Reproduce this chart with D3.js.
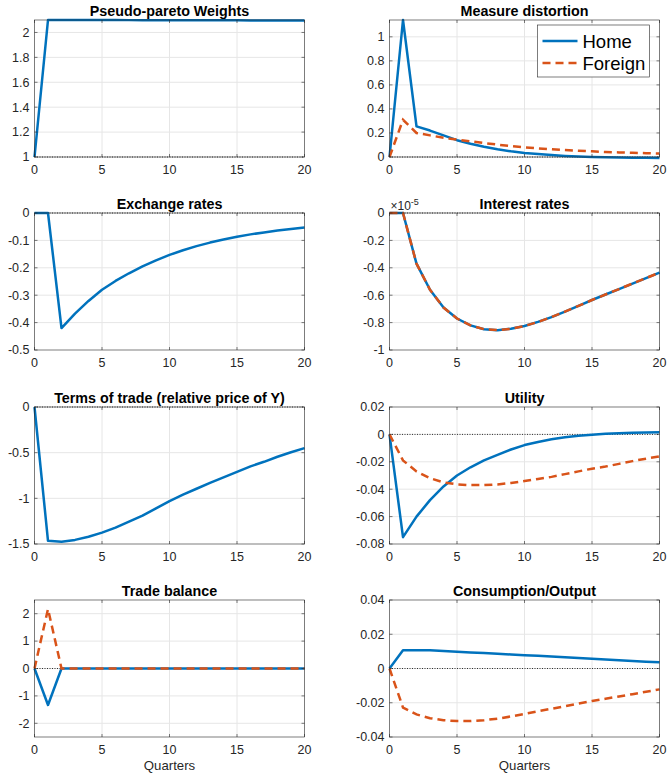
<!DOCTYPE html>
<html>
<head>
<meta charset="utf-8">
<script src="https://cdn.jsdelivr.net/npm/d3@7"></script>
<style>
  body { margin: 0; background: #fff; }
  svg { font-family: "Liberation Sans", Arial, Helvetica, sans-serif; }
</style>
</head>
<body>
<svg id="chart" width="669" height="779"></svg>
<script>
// quarters 0..20
const quarters = d3.range(0, 21);

// Pseudo-pareto weights (home only)
const paretoHome = [1, 2.1, 2.1, 2.1, 2.1, 2.1, 2.1, 2.099, 2.099, 2.099, 2.098,
  2.098, 2.098, 2.097, 2.097, 2.097, 2.096, 2.096, 2.096, 2.095, 2.095];

// Measure distortion
const distHome = [0, 1.14, 0.255, 0.22, 0.18, 0.14, 0.11, 0.085, 0.064, 0.047, 0.034,
  0.024, 0.016, 0.009, 0.004, 0.0, -0.003, -0.005, -0.006, -0.007, -0.008];
const distForeign = [0, 0.31, 0.2, 0.18, 0.16, 0.145, 0.13, 0.116, 0.103, 0.091, 0.08,
  0.072, 0.065, 0.058, 0.052, 0.047, 0.042, 0.038, 0.035, 0.032, 0.029];

// Exchange rates
const fxHome = [0, 0, -0.42, -0.367, -0.321, -0.28, -0.248, -0.22, -0.195, -0.173, -0.153,
  -0.136, -0.121, -0.108, -0.097, -0.087, -0.078, -0.071, -0.064, -0.058, -0.053];

// Interest rates (x 1e-5), home and foreign coincide
const rateHome = [0, 0, -0.37, -0.56, -0.69, -0.77, -0.82, -0.848, -0.855, -0.845, -0.825,
  -0.795, -0.76, -0.72, -0.678, -0.635, -0.595, -0.555, -0.515, -0.475, -0.435];
const rateForeign = rateHome.slice();

// Terms of trade
const totHome = [0, -1.465, -1.475, -1.455, -1.42, -1.375, -1.32, -1.255, -1.19, -1.11, -1.03,
  -0.96, -0.895, -0.83, -0.77, -0.71, -0.65, -0.6, -0.545, -0.495, -0.45];

// Utility
const utilHome = [0, -0.075, -0.06, -0.048, -0.038, -0.03, -0.024, -0.019, -0.015, -0.011, -0.0078,
  -0.0055, -0.0036, -0.0021, -0.001, -0.0002, 0.0004, 0.0009, 0.0012, 0.0014, 0.0015];
const utilForeign = [0, -0.019, -0.027, -0.032, -0.035, -0.0365, -0.037, -0.037, -0.0365, -0.0355, -0.034,
  -0.0325, -0.031, -0.029, -0.027, -0.025, -0.0235, -0.0215, -0.0195, -0.0177, -0.016];

// Trade balance
const tbHome = [0, -1.33, 0, 0, 0, 0, 0, 0, 0, 0, 0, 0, 0, 0, 0, 0, 0, 0, 0, 0, 0];
const tbForeign = [0, 2.17, 0, 0, 0, 0, 0, 0, 0, 0, 0, 0, 0, 0, 0, 0, 0, 0, 0, 0, 0];

// Consumption/Output
const consHome = [0, 0.0106, 0.0107, 0.0106, 0.0102, 0.0098, 0.0094, 0.009, 0.0086, 0.0082, 0.0078,
  0.0074, 0.007, 0.0065, 0.0061, 0.0057, 0.0052, 0.0048, 0.0044, 0.004, 0.0036];
const consForeign = [0, -0.0228, -0.0268, -0.029, -0.0302, -0.0307, -0.0307, -0.0302, -0.0293, -0.028, -0.0265,
  -0.025, -0.0235, -0.022, -0.0205, -0.019, -0.0177, -0.0163, -0.015, -0.0136, -0.0122];

const xTicks = [0, 5, 10, 15, 20];

const panels = [
  { title: 'Pseudo-pareto Weights', home: paretoHome, foreign: null, domain: [1, 2.1],
    ticks: [1, 1.2, 1.4, 1.6, 1.8, 2], ref: 1 },
  { title: 'Measure distortion', home: distHome, foreign: distForeign, domain: [0, 1.14],
    ticks: [0, 0.2, 0.4, 0.6, 0.8, 1], ref: 0, legend: true },
  { title: 'Exchange rates', home: fxHome, foreign: null, domain: [-0.5, 0],
    ticks: [-0.5, -0.4, -0.3, -0.2, -0.1, 0], ref: 0 },
  { title: 'Interest rates', home: rateHome, foreign: rateForeign, domain: [-1, 0],
    ticks: [-1, -0.8, -0.6, -0.4, -0.2, 0], ref: 0, exponent: '-5' },
  { title: 'Terms of trade (relative price of Y)', home: totHome, foreign: null, domain: [-1.5, 0],
    ticks: [-1.5, -1, -0.5, 0], ref: 0 },
  { title: 'Utility', home: utilHome, foreign: utilForeign, domain: [-0.08, 0.02],
    ticks: [-0.08, -0.06, -0.04, -0.02, 0, 0.02], ref: 0 },
  { title: 'Trade balance', home: tbHome, foreign: tbForeign, domain: [-2.5, 2.5],
    ticks: [-2, -1, 0, 1, 2], ref: 0, xlabel: true },
  { title: 'Consumption/Output', home: consHome, foreign: consForeign, domain: [-0.04, 0.04],
    ticks: [-0.04, -0.02, 0, 0.02, 0.04], ref: 0, xlabel: true }
];

const blue = '#0072BD';
const orange = '#D95319';
const axisColor = '#262626';

const colLeft = [34.5, 389.5];
const rowTop = [20, 213, 407, 600];
const plotW = 270;
const plotH = 137;

const svg = d3.select('#chart');

panels.forEach((p, i) => {
  const col = i % 2;
  const row = Math.floor(i / 2);
  const g = svg.append('g')
    .attr('transform', 'translate(' + colLeft[col] + ',' + rowTop[row] + ')');

  const x = d3.scaleLinear().domain([0, 20]).range([0, plotW]);
  const y = d3.scaleLinear().domain(p.domain).range([plotH, 0]);

  // grid
  g.append('g').selectAll('line.gx')
    .data(xTicks.slice(1, -1))
    .enter().append('line')
    .attr('x1', d => x(d)).attr('x2', d => x(d))
    .attr('y1', 0).attr('y2', plotH)
    .attr('stroke', '#e6e6e6').attr('stroke-width', 1);
  g.append('g').selectAll('line.gy')
    .data(p.ticks.filter(t => y(t) > 0.5 && y(t) < plotH - 0.5))
    .enter().append('line')
    .attr('x1', 0).attr('x2', plotW)
    .attr('y1', d => y(d)).attr('y2', d => y(d))
    .attr('stroke', '#e6e6e6').attr('stroke-width', 1);

  // steady state reference
  g.append('line')
    .attr('x1', 0).attr('x2', plotW)
    .attr('y1', y(p.ref)).attr('y2', y(p.ref))
    .attr('stroke', '#000').attr('stroke-width', 0.8)
    .attr('stroke-dasharray', '1,1.5');

  const line = d3.line()
    .x((d, j) => x(quarters[j]))
    .y(d => y(d));

  g.append('path')
    .datum(p.home)
    .attr('d', line)
    .attr('fill', 'none')
    .attr('stroke', blue)
    .attr('stroke-width', 2.5)
    .attr('stroke-linejoin', 'round');

  if (p.foreign) {
    g.append('path')
      .datum(p.foreign)
      .attr('d', line)
      .attr('fill', 'none')
      .attr('stroke', orange)
      .attr('stroke-width', 2.5)
      .attr('stroke-dasharray', '8,5');
  }

  // box
  g.append('rect')
    .attr('width', plotW).attr('height', plotH)
    .attr('fill', 'none')
    .attr('stroke', axisColor).attr('stroke-width', 0.6);

  // ticks (inward, on all four sides)
  const tk = 3;
  xTicks.forEach(t => {
    g.append('line').attr('x1', x(t)).attr('x2', x(t)).attr('y1', plotH).attr('y2', plotH - tk)
      .attr('stroke', axisColor).attr('stroke-width', 0.6);
    g.append('line').attr('x1', x(t)).attr('x2', x(t)).attr('y1', 0).attr('y2', tk)
      .attr('stroke', axisColor).attr('stroke-width', 0.6);
  });
  p.ticks.forEach(t => {
    g.append('line').attr('x1', 0).attr('x2', tk).attr('y1', y(t)).attr('y2', y(t))
      .attr('stroke', axisColor).attr('stroke-width', 0.6);
    g.append('line').attr('x1', plotW).attr('x2', plotW - tk).attr('y1', y(t)).attr('y2', y(t))
      .attr('stroke', axisColor).attr('stroke-width', 0.6);
  });

  // tick labels
  g.append('g').selectAll('text')
    .data(xTicks)
    .enter().append('text')
    .attr('x', d => x(d))
    .attr('y', plotH + 16.5)
    .attr('text-anchor', 'middle')
    .attr('font-size', 12.5)
    .attr('fill', axisColor)
    .text(d => d);

  g.append('g').selectAll('text')
    .data(p.ticks)
    .enter().append('text')
    .attr('x', -5)
    .attr('y', d => y(d))
    .attr('dy', '0.35em')
    .attr('text-anchor', 'end')
    .attr('font-size', 12.5)
    .attr('fill', axisColor)
    .text(d => d3.format('~g')(d).replace('\u2212', '-'));

  // title
  g.append('text')
    .attr('x', plotW / 2)
    .attr('y', -4.5)
    .attr('text-anchor', 'middle')
    .attr('font-size', 14.3)
    .attr('font-weight', 'bold')
    .attr('fill', '#000')
    .text(p.title);

  if (p.exponent) {
    const e = g.append('text')
      .attr('x', 1)
      .attr('y', -3)
      .attr('font-size', 12)
      .attr('fill', axisColor);
    e.append('tspan').text('\u00d710');
    e.append('tspan').attr('dy', -5).attr('font-size', 9).text(p.exponent);
  }

  if (p.xlabel) {
    g.append('text')
      .attr('x', plotW / 2)
      .attr('y', plotH + 33)
      .attr('text-anchor', 'middle')
      .attr('font-size', 13.2)
      .attr('fill', axisColor)
      .text('Quarters');
  }

  if (p.legend) {
    const lg = g.append('g').attr('transform', 'translate(148,5)');
    lg.append('rect')
      .attr('width', 112).attr('height', 52)
      .attr('fill', '#fff')
      .attr('stroke', axisColor).attr('stroke-width', 0.6);
    const items = [{ name: 'Home', color: blue, dash: null },
                   { name: 'Foreign', color: orange, dash: '8,5' }];
    items.forEach((it, k) => {
      const yy = 16 + k * 22;
      lg.append('line')
        .attr('x1', 5).attr('x2', 40)
        .attr('y1', yy).attr('y2', yy)
        .attr('stroke', it.color).attr('stroke-width', 2.5)
        .attr('stroke-dasharray', it.dash);
      lg.append('text')
        .attr('x', 45).attr('y', yy)
        .attr('dy', '0.36em')
        .attr('font-size', 18.5)
        .attr('fill', '#000')
        .text(it.name);
    });
  }
});
</script>
</body>
</html>
